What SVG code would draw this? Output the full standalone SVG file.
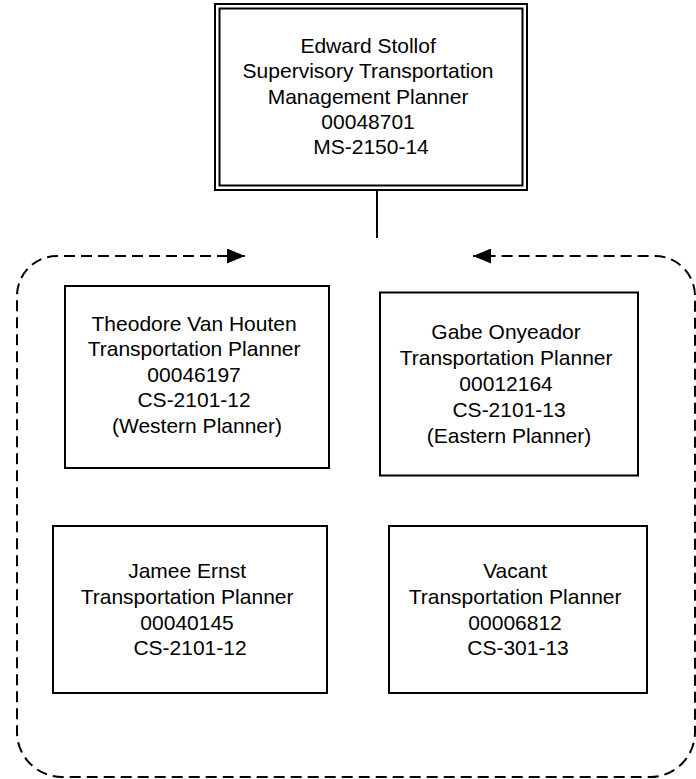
<svg xmlns="http://www.w3.org/2000/svg" width="696" height="779" viewBox="0 0 696 779">
  <style>
    .box { fill: #fff; stroke: #000; stroke-width: 2; }
    .lbl { font-family: "Liberation Sans", Arial, sans-serif; font-size: 21px; fill: #000; text-anchor: middle; }
    .conn { fill: none; stroke: #000; stroke-width: 2; }
    .dash { stroke-dasharray: 11 6; }
  </style>
  <defs>
    <marker id="arrow" markerUnits="userSpaceOnUse" viewBox="0 0 18 15" markerWidth="18" markerHeight="15" refX="18" refY="7.5" orient="auto-start-reverse">
      <path d="M0,0 L18,7.5 L0,15 z" fill="#000"/>
    </marker>
  </defs>
  <rect width="696" height="779" fill="#fff"/>

  <g id="connectors">
    <line class="conn" x1="377" y1="190" x2="377" y2="238"/>
    <path class="conn dash" d="M 245 256 H 57 A 40 40 0 0 0 17 296 V 732 A 45 45 0 0 0 62 777 H 650 A 45 45 0 0 0 695 732 V 296 A 40 40 0 0 0 655 256 H 473" marker-start="url(#arrow)" marker-end="url(#arrow)"/>
  </g>

  <g id="node-stollof">
    <rect class="box" x="215" y="4" width="312" height="186"/>
    <rect class="box" x="219.5" y="8.5" width="303" height="177"/>
    <text class="lbl" x="371" y="53">
      <tspan x="371">Edward Stollof</tspan>
      <tspan x="371" dy="25.3">Supervisory Transportation</tspan>
      <tspan x="371" dy="25.3">Management Planner</tspan>
      <tspan x="371" dy="25.3">00048701</tspan>
      <tspan x="371" dy="25.3">MS-2150-14</tspan>
    </text>
  </g>

  <g id="node-vanhouten">
    <rect class="box" x="65" y="286" width="264" height="182"/>
    <text class="lbl" x="197" y="330.7">
      <tspan x="197">Theodore Van Houten</tspan>
      <tspan x="197" dy="25.5">Transportation Planner</tspan>
      <tspan x="197" dy="25.5">00046197</tspan>
      <tspan x="197" dy="25.5">CS-2101-12</tspan>
      <tspan x="197" dy="25.5">(Western Planner)</tspan>
    </text>
  </g>

  <g id="node-onyeador">
    <rect class="box" x="380" y="292.5" width="258" height="183"/>
    <text class="lbl" x="509" y="339.3">
      <tspan x="509">Gabe Onyeador</tspan>
      <tspan x="509" dy="25.8">Transportation Planner</tspan>
      <tspan x="509" dy="25.8">00012164</tspan>
      <tspan x="512" dy="25.8">CS-2101-13</tspan>
      <tspan x="509" dy="25.8">(Eastern Planner)</tspan>
    </text>
  </g>

  <g id="node-ernst">
    <rect class="box" x="53" y="526" width="274" height="167"/>
    <text class="lbl" x="190" y="578.3">
      <tspan x="190">Jamee Ernst</tspan>
      <tspan x="190" dy="25.6">Transportation Planner</tspan>
      <tspan x="190" dy="25.6">00040145</tspan>
      <tspan x="190" dy="25.6">CS-2101-12</tspan>
    </text>
  </g>

  <g id="node-vacant">
    <rect class="box" x="389" y="526" width="258" height="167"/>
    <text class="lbl" x="518" y="578.3">
      <tspan x="518">Vacant</tspan>
      <tspan x="518" dy="25.6">Transportation Planner</tspan>
      <tspan x="518" dy="25.6">00006812</tspan>
      <tspan x="518" dy="25.6">CS-301-13</tspan>
    </text>
  </g>
</svg>
